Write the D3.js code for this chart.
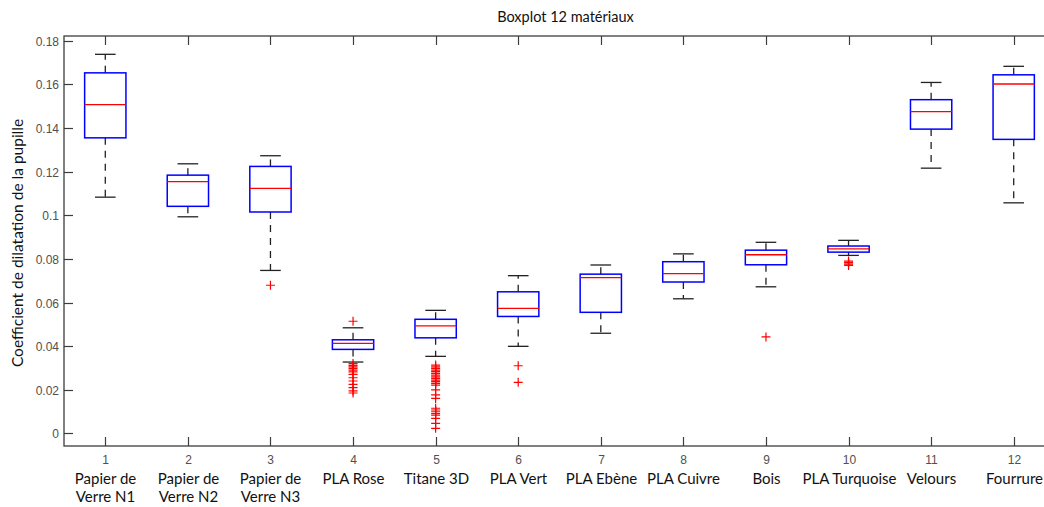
<!DOCTYPE html>
<html>
<head>
<meta charset="utf-8">
<script src="https://cdn.jsdelivr.net/npm/d3@7"></script>
<style>
  html, body { margin: 0; padding: 0; background: #fff; }
  svg { display: block; }
</style>
</head>
<body>
<svg id="chart" width="1044" height="507"></svg>
<script>
// ---- data ----
const positions = [1, 2, 3, 4, 5, 6, 7, 8, 9, 10, 11, 12];
const categoryLabels = [
  ["Papier de", "Verre N1"], ["Papier de", "Verre N2"], ["Papier de", "Verre N3"],
  ["PLA Rose"], ["Titane 3D"], ["PLA Vert"], ["PLA Ebène"], ["PLA Cuivre"],
  ["Bois"], ["PLA Turquoise"], ["Velours"], ["Fourrure"]
];
const whiskerHigh = [0.1738, 0.1236, 0.1273, 0.0484, 0.0564, 0.0723, 0.0772, 0.0823, 0.0876, 0.0885, 0.1609, 0.1683];
const q3Values    = [0.1653, 0.1184, 0.1224, 0.0429, 0.0523, 0.0649, 0.0730, 0.0787, 0.0840, 0.0859, 0.1530, 0.1644];
const medians     = [0.1507, 0.1154, 0.1123, 0.0413, 0.0493, 0.0573, 0.0714, 0.0732, 0.0819, 0.0846, 0.1475, 0.1602];
const q1Values    = [0.1355, 0.1041, 0.1015, 0.0385, 0.0438, 0.0536, 0.0555, 0.0694, 0.0773, 0.0831, 0.1395, 0.1348];
const whiskerLow  = [0.1083, 0.0993, 0.0747, 0.0327, 0.0353, 0.0399, 0.0459, 0.0617, 0.0672, 0.0816, 0.1216, 0.1057];
const outliers = [
  [],
  [],
  [0.0679],
  [0.0514, 0.0320, 0.0312, 0.0305, 0.0298, 0.0290, 0.0282, 0.0270, 0.0255, 0.0240, 0.0225, 0.0210, 0.0195, 0.0185],
  [0.0313, 0.0305, 0.0298, 0.0290, 0.0283, 0.0275, 0.0267, 0.0259, 0.0252, 0.0244, 0.0237, 0.0229, 0.0221, 0.0199, 0.0176, 0.0160,
   0.0115, 0.0107, 0.0099, 0.0091, 0.0084, 0.0069, 0.0046, 0.0023],
  [0.0310, 0.0234],
  [],
  [],
  [0.0442],
  [0.0790, 0.0783, 0.0776, 0.0770],
  [],
  []
];
const yTicks = [0, 0.02, 0.04, 0.06, 0.08, 0.1, 0.12, 0.14, 0.16, 0.18];
const titleText = "Boxplot 12 matériaux";
const yLabelText = "Coefficient de dilatation de la pupille";

(function () {
// ---- layout ----
const mLeft = 64, mRight = 1055, mTop = 36, mBottom = 446;
const svg = d3.select("#chart");
const x = d3.scaleLinear().domain([0.5, 12.5]).range([mLeft, mRight]);
const y = d3.scaleLinear().domain([-0.0058, 0.1822]).range([mBottom, mTop]);
const axisColor = "#3d3d3d";
const tickLen = 9;
const boxHalf = (x(1.25) - x(1));
const capHalf = (x(1.125) - x(1));
const labelFont = "Lato, 'Open Sans', sans-serif";

// axes box
const gAx = svg.append("g");
gAx.append("rect").attr("x", mLeft).attr("y", mTop).attr("width", mRight - mLeft).attr("height", mBottom - mTop)
  .attr("fill", "none").attr("stroke", axisColor).attr("stroke-width", 1.3);

// y ticks
yTicks.forEach(t => {
  const yy = Math.round(y(t)) + 0.5;
  gAx.append("line").attr("x1", mLeft).attr("x2", mLeft + tickLen).attr("y1", yy).attr("y2", yy)
    .attr("stroke", axisColor).attr("stroke-width", 1.2);
  gAx.append("line").attr("x1", mRight).attr("x2", mRight - tickLen).attr("y1", yy).attr("y2", yy)
    .attr("stroke", axisColor).attr("stroke-width", 1.2);
  gAx.append("text").attr("x", mLeft - 5).attr("y", yy).attr("dy", "0.35em")
    .attr("text-anchor", "end").attr("font-family", "Liberation Sans, Arial, sans-serif")
    .attr("font-size", 12).attr("fill", "#505050").text(d3.format(".2~f")(t));
});

// x ticks and labels
positions.forEach((p, i) => {
  const xx = Math.round(x(p)) + 0.5;
  gAx.append("line").attr("x1", xx).attr("x2", xx).attr("y1", mBottom).attr("y2", mBottom - tickLen)
    .attr("stroke", axisColor).attr("stroke-width", 1.2);
  gAx.append("line").attr("x1", xx).attr("x2", xx).attr("y1", mTop).attr("y2", mTop + tickLen)
    .attr("stroke", axisColor).attr("stroke-width", 1.2);
  gAx.append("text").attr("x", xx).attr("y", 464)
    .attr("text-anchor", "middle").attr("font-family", "Liberation Sans, Arial, sans-serif")
    .attr("font-size", 12).attr("fill", "#505050").text(String(p));
  categoryLabels[i].forEach((line, j) => {
    gAx.append("text").attr("x", xx).attr("y", 484 + j * 18)
      .attr("text-anchor", "middle").attr("font-family", labelFont)
      .attr("font-size", 15).attr("fill", "#111").text(line);
  });
});

// title
svg.append("text").attr("x", (mLeft + mRight) / 2 + 6).attr("y", 22).attr("text-anchor", "middle")
  .attr("font-family", labelFont).attr("font-size", 14.5).attr("fill", "#111")
  .text(titleText);

// y label
svg.append("text").attr("transform", `translate(23, ${(mTop + mBottom) / 2 + 2}) rotate(-90)`)
  .attr("text-anchor", "middle").attr("font-family", labelFont)
  .attr("font-size", 15.5).attr("fill", "#111").text(yLabelText);

// boxes
const g = svg.append("g");
positions.forEach((p, i) => {
  const cx = x(p);
  g.append("line").attr("x1", cx).attr("x2", cx).attr("y1", y(q3Values[i])).attr("y2", y(whiskerHigh[i]))
    .attr("stroke", "#222").attr("stroke-width", 1.3).attr("stroke-dasharray", "7,6");
  g.append("line").attr("x1", cx).attr("x2", cx).attr("y1", y(q1Values[i])).attr("y2", y(whiskerLow[i]))
    .attr("stroke", "#222").attr("stroke-width", 1.3).attr("stroke-dasharray", "7,6");
  [whiskerHigh[i], whiskerLow[i]].forEach(v => {
    g.append("line").attr("x1", cx - capHalf).attr("x2", cx + capHalf).attr("y1", y(v)).attr("y2", y(v))
      .attr("stroke", "#222").attr("stroke-width", 1.3);
  });
  g.append("rect").attr("x", cx - boxHalf).attr("y", y(q3Values[i]))
    .attr("width", 2 * boxHalf).attr("height", y(q1Values[i]) - y(q3Values[i]))
    .attr("fill", "none").attr("stroke", "#0000ff").attr("stroke-width", 1.5);
  g.append("line").attr("x1", cx - boxHalf).attr("x2", cx + boxHalf).attr("y1", y(medians[i])).attr("y2", y(medians[i]))
    .attr("stroke", "#ff0000").attr("stroke-width", 1.3);
  outliers[i].forEach(v => {
    const yy = y(v);
    g.append("path").attr("d", `M${cx - 4.5},${yy}H${cx + 4.5}M${cx},${yy - 4.5}V${yy + 4.5}`)
      .attr("stroke", "#ff0000").attr("stroke-width", 1.2).attr("fill", "none");
  });
});
})();
</script>
</body>
</html>
